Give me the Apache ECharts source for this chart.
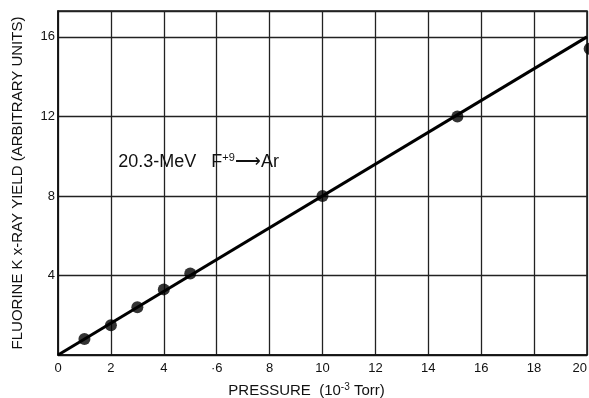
<!DOCTYPE html>
<html>
<head>
<meta charset="utf-8">
<script src="https://cdn.jsdelivr.net/npm/echarts@6/dist/echarts.min.js"></script>
<style>
  html, body { margin: 0; padding: 0; background: #fff; }
  #chart { width: 589px; height: 398px; }
</style>
</head>
<body>
<div id="chart"></div>
<script>
// measured points (pressure in 10^-3 Torr, yield in arbitrary units)
const pressure = [1, 2, 3, 4, 5, 10, 15.1, 20.1];
const yieldVals = [0.8, 1.5, 2.4, 3.3, 4.1, 8.0, 12.0, 15.4];
// fitted straight line
const fitX = [0, 20];
const fitY = [0, 16];
// tick labels as printed on the figure
const xTickLabels = ["0", "2", "4", "·6", "8", "10", "12", "14", "16", "18", "20"];
const yTickLabels = { 4: "4", 8: "8", 12: "12", 16: "16" };

const font = "Liberation Sans, Arial, sans-serif";
const chart = echarts.init(document.getElementById("chart"));

const option = {
  animation: false,
  backgroundColor: "#fff",
  grid: {
    left: 58,
    right: 2,
    top: 11,
    bottom: 43,
    containLabel: false,
    outerBoundsMode: "none",
    show: true,
    borderColor: "#111",
    borderWidth: 1.5,
  },
  xAxis: {
    type: "value",
    min: 0,
    max: 20,
    interval: 2,
    name: "{n|PRESSURE  (10}{s|-3}{n| Torr)}",
    nameLocation: "middle",
    nameGap: 27,
    nameTextStyle: {
      padding: [0, 32, 0, 0],
      rich: {
        n: { fontFamily: font, fontSize: 15, color: "#111" },
        s: { fontFamily: font, fontSize: 10, color: "#111", verticalAlign: "top", padding: [0, 0, 7, 0] },
      },
    },
    axisLine: { lineStyle: { color: "#111", width: 1.5 } },
    axisTick: { show: false },
    axisLabel: {
      margin: 7,
      fontFamily: font,
      fontSize: 13,
      color: "#111",
      alignMaxLabel: "right",
      formatter: (v) => xTickLabels[Math.round(v / 2)],
    },
    splitLine: { lineStyle: { color: "#222", width: 1.3 } },
  },
  yAxis: {
    type: "value",
    min: 0,
    max: 17.3,
    interval: 4,
    name: "FLUORINE K x-RAY YIELD (ARBITRARY UNITS)",
    nameLocation: "middle",
    nameGap: 33,
    nameTextStyle: { fontFamily: font, fontSize: 15, color: "#111" },
    axisLine: { lineStyle: { color: "#111", width: 1.5 } },
    axisTick: { show: false },
    axisLabel: {
      margin: 3,
      fontFamily: font,
      fontSize: 13,
      color: "#111",
      showMaxLabel: false,
      formatter: (v) => yTickLabels[v] || "",
    },
    splitLine: { lineStyle: { color: "#222", width: 1.3 } },
  },
  series: [
    {
      type: "line",
      data: fitX.map((x, i) => [x, fitY[i]]),
      symbol: "none",
      lineStyle: { color: "#000", width: 3 },
      z: 3,
    },
    {
      type: "scatter",
      data: pressure.map((x, i) => [x, yieldVals[i]]),
      symbol: "circle",
      symbolSize: 12,
      itemStyle: { color: "#000" },
      clip: false,
      z: 4,
    },
  ],
};
chart.setOption(option);

// label inside the plot, placed in data coordinates
const pos = chart.convertToPixel({ gridIndex: 0 }, [2.28, 9.7]);
chart.setOption({
  graphic: [
    {
      type: "text",
      x: pos[0],
      y: pos[1],
      style: {
        text: "{a|20.3-MeV   F}{s|+9}{a|⟶Ar}",
        verticalAlign: "middle",
        rich: {
          a: { fontFamily: font, fontSize: 18, fill: "#111" },
          s: { fontFamily: font, fontSize: 11, fill: "#111", verticalAlign: "top", padding: [0, 0, 9, 0] },
        },
      },
    },
  ],
});
</script>
</body>
</html>
